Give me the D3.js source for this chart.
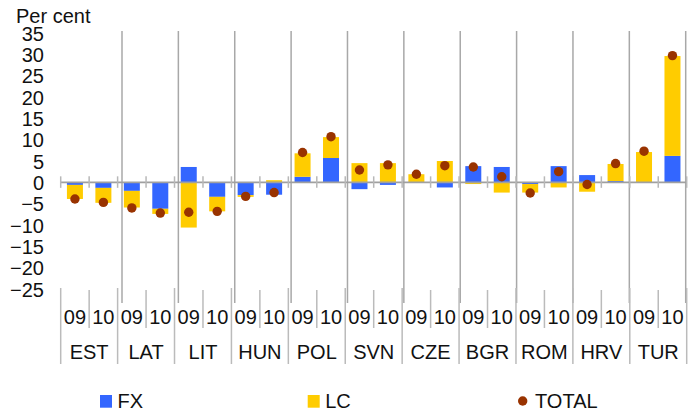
<!DOCTYPE html>
<html>
<head>
<meta charset="utf-8">
<script src="https://cdn.jsdelivr.net/npm/d3@7/dist/d3.min.js"></script>
<style>
  html, body { margin: 0; padding: 0; background: #fff; }
  svg { display: block; font-family: "Liberation Sans", Arial, sans-serif; }
</style>
</head>
<body>
<svg id="chart" width="697" height="412"></svg>
<script>
// ---- data ----
const countries = ["EST", "LAT", "LIT", "HUN", "POL", "SVN", "CZE", "BGR", "ROM", "HRV", "TUR"];
const years = ["09", "10"];
// values per country, [09, 10]
const fx = [
  [-0.6, -1.3], [-2.0, -6.2], [3.6, -3.4], [-3.0, -2.9], [1.3, 5.7], [-1.6, -0.6],
  [0.0, -1.2], [3.8, 3.6], [-0.4, 3.8], [1.7, 0.3], [0.0, 6.2]
];
const lc = [
  [-3.3, -3.5], [-3.9, -1.2], [-10.6, -3.4], [-0.4, 0.5], [5.5, 4.9], [4.5, 4.5],
  [1.9, 5.0], [-0.4, -2.4], [-2.0, -1.2], [-2.2, 4.0], [7.1, 23.4]
];
const total = [
  [-3.9, -4.7], [-6.0, -7.2], [-7.0, -6.8], [-3.3, -2.4], [7.0, 10.7], [2.9, 4.1],
  [1.9, 3.9], [3.6, 1.3], [-2.5, 2.5], [-0.5, 4.4], [7.3, 29.7]
];
const yTicks = [35, 30, 25, 20, 15, 10, 5, 0, -5, -10, -15, -20, -25];
const seriesNames = ["FX", "LC", "TOTAL"];
const colors = { FX: "#3366FF", LC: "#FFCC00", TOTAL: "#993300" };

// ---- build table ----
const rows = [];
countries.forEach((c, i) => years.forEach((yr, j) => {
  rows.push({ key: c + "-" + yr, country: c, year: yr, FX: fx[i][j], LC: lc[i][j], TOTAL: total[i][j] });
}));

const svg = d3.select("#chart");
const x0 = 60.7, x1 = 686.7;
const x = d3.scaleBand().domain(rows.map(d => d.key)).range([x0, x1])
  .paddingInner(0.4375).paddingOuter(0.21875);
const xg = d3.scaleBand().domain(countries).range([x0, x1]).padding(0);
const y = d3.scaleLinear().domain([-25, 35]).range([289, 33]);
const step = x.step();

// vertical grid lines in plot (slightly offset like reference)
const gridX = d3.scaleLinear().domain([1, countries.length]).range([122, 685.7]);
svg.append("g").selectAll("line").data(d3.range(1, countries.length + 1)).join("line")
  .attr("x1", d => gridX(d)).attr("x2", d => gridX(d))
  .attr("y1", 31).attr("y2", 303)
  .attr("stroke", "#a8a8a8").attr("stroke-width", 1.5);

// label-area separators
const gBounds = countries.map(c => xg(c)).concat([x1]);
svg.append("g").selectAll("line").data(gBounds).join("line")
  .attr("x1", d => d).attr("x2", d => d).attr("y1", 288).attr("y2", 364)
  .attr("stroke", "#bbbbbb").attr("stroke-width", 1.5);
svg.append("g").selectAll("line").data(countries).join("line")
  .attr("x1", c => xg(c) + step).attr("x2", c => xg(c) + step)
  .attr("y1", 290).attr("y2", 328)
  .attr("stroke", "#bbbbbb").attr("stroke-width", 1.5);

// stacked bars
const stack = d3.stack().keys(["FX", "LC"]).offset(d3.stackOffsetDiverging);
const layers = stack(rows);
svg.append("g").selectAll("g").data(layers).join("g")
  .attr("fill", d => colors[d.key])
  .selectAll("rect").data(d => d).join("rect")
  .attr("x", d => x(d.data.key))
  .attr("width", x.bandwidth())
  .attr("y", d => y(Math.max(d[0], d[1])))
  .attr("height", d => Math.abs(y(d[0]) - y(d[1])));

// zero line with ticks
svg.append("line").attr("x1", x0).attr("x2", x1).attr("y1", y(0)).attr("y2", y(0))
  .attr("stroke", "#a0a0a0").attr("stroke-width", 1.7);
const tickXs = d3.range(0, rows.length + 1).map(i => x0 + i * step);
svg.append("g").selectAll("line").data(tickXs).join("line")
  .attr("x1", d => d).attr("x2", d => d).attr("y1", y(0) - 6).attr("y2", y(0) + 5.5)
  .attr("stroke", "#b8b8b8").attr("stroke-width", 1.5);

// total dots
svg.append("g").selectAll("circle").data(rows).join("circle")
  .attr("cx", d => x(d.key) + x.bandwidth() / 2)
  .attr("cy", d => y(d.TOTAL))
  .attr("r", 4.7)
  .attr("fill", colors.TOTAL);

// y axis labels
const yAxis = d3.axisLeft(y).tickValues(yTicks).tickSize(0).tickPadding(0).tickFormat(d3.format("d"));
const ya = svg.append("g").attr("transform", "translate(44,0)").call(yAxis);
ya.select(".domain").remove();
ya.selectAll("text").attr("font-size", 20).attr("fill", "#111")
  .attr("font-family", "'Liberation Sans', Arial, sans-serif").attr("dy", "0.36em");

svg.append("text").attr("x", 16).attr("y", 22.7).attr("font-size", 20).attr("fill", "#111").text("Per cent");

// x labels
svg.append("g").selectAll("text").data(rows).join("text")
  .attr("x", d => x(d.key) + x.bandwidth() / 2).attr("y", 323.5)
  .attr("text-anchor", "middle").attr("font-size", 20).attr("fill", "#111")
  .text(d => d.year);
svg.append("g").selectAll("text").data(countries).join("text")
  .attr("x", c => xg(c) + xg.bandwidth() / 2).attr("y", 359)
  .attr("text-anchor", "middle").attr("font-size", 20).attr("fill", "#111")
  .text(c => c);

// legend
const legendX = [100, 307.7, 518];
const leg = svg.append("g");
seriesNames.forEach((s, i) => {
  const g = leg.append("g").attr("transform", `translate(${legendX[i]},0)`);
  if (s === "TOTAL") {
    g.append("circle").attr("cx", 4.7).attr("cy", 401).attr("r", 4.7).attr("fill", colors[s]);
    g.append("text").attr("x", 17).attr("y", 407.7).attr("font-size", 20).attr("fill", "#111").text(s);
  } else {
    g.append("rect").attr("x", 0).attr("y", 395).attr("width", 12).attr("height", 12.7).attr("fill", colors[s]);
    g.append("text").attr("x", 17.5).attr("y", 407.7).attr("font-size", 20).attr("fill", "#111").text(s);
  }
});
</script>
</body>
</html>
